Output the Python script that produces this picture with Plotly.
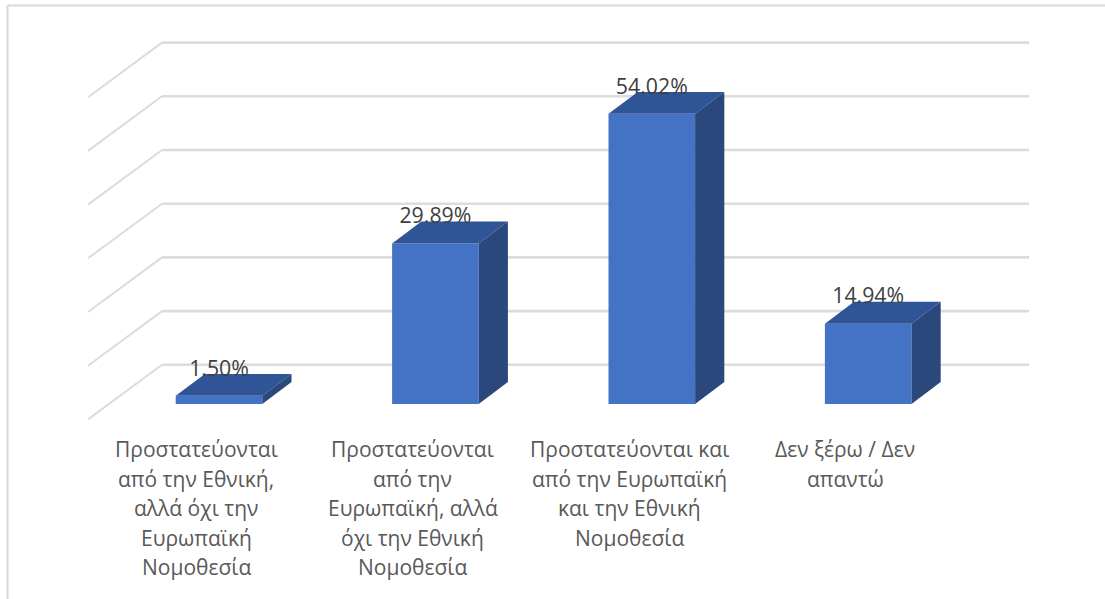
import plotly.graph_objects as go

# ---- data ----
label_lines = [
    ["Προστατεύονται", "από την Εθνική,", "αλλά όχι την", "Ευρωπαϊκή", "Νομοθεσία"],
    ["Προστατεύονται", "από την", "Ευρωπαϊκή, αλλά", "όχι την Εθνική", "Νομοθεσία"],
    ["Προστατεύονται και", "από την Ευρωπαϊκή", "και την Εθνική", "Νομοθεσία"],
    ["Δεν ξέρω / Δεν", "απαντώ"],
]
values = [1.50, 29.89, 54.02, 14.94]
value_text = ["1.50%", "29.89%", "54.02%", "14.94%"]
grid_ticks = [0, 10, 20, 30, 40, 50, 60]

# ---- page geometry (pixels) ----
W, H = 1105, 599
X0, XSTEP = 219.0, 216.4     # pixel of category 0, pixels per category
Y0, YSTEP = 403.9, 5.37      # pixel of value 0, pixels per percent
BAR_W = 86.6 / XSTEP
DX, DY = 29.2 / XSTEP, 21.8 / YSTEP      # bar depth in axis units
WALL_DY = 39.1 / YSTEP                   # back wall offset
GRID_L = (88 - X0) / XSTEP
GRID_M = (162 - X0) / XSTEP
GRID_R = (1029 - X0) / XSTEP
FLOOR_DY = 54.6 / YSTEP                  # diagonal drop from wall to front edge

FRONT, TOP, SIDE = "#4472C4", "#2F5597", "#2A487C"
GRID = "#DCDCDC"

fig = go.Figure()

# gridlines sit under the bars, as below-layer shapes on the data axes
shapes = []
for t in grid_ticks:
    yb = t + WALL_DY
    shapes.append(dict(type="line", xref="x", yref="y", layer="below",
                       x0=GRID_M, x1=GRID_R, y0=yb, y1=yb,
                       line=dict(color=GRID, width=2.6)))
    shapes.append(dict(type="line", xref="x", yref="y", layer="below",
                       x0=GRID_L, x1=GRID_M, y0=yb - FLOOR_DY, y1=yb,
                       line=dict(color=GRID, width=2)))

# front faces
fig.add_trace(go.Bar(
    x=list(range(len(values))), y=values, width=BAR_W,
    marker=dict(color=FRONT, line=dict(width=0)), showlegend=False))

# top and side faces, derived from the same values
for i, v in enumerate(values):
    l, r = i - BAR_W / 2, i + BAR_W / 2
    fig.add_trace(go.Scatter(
        x=[l, r, r + DX, l + DX, l], y=[v, v, v + DY, v + DY, v],
        mode="lines", fill="toself", fillcolor=TOP, line=dict(width=0),
        hoverinfo="skip", showlegend=False))
    fig.add_trace(go.Scatter(
        x=[r, r + DX, r + DX, r, r], y=[0, DY, v + DY, v, 0],
        mode="lines", fill="toself", fillcolor=SIDE, line=dict(width=0),
        hoverinfo="skip", showlegend=False))

# data labels
fig.add_trace(go.Scatter(
    x=list(range(len(values))), y=[v + 25.5 / YSTEP for v in values],
    mode="text", text=value_text, textposition="middle center",
    textfont=dict(family="Open Sans", size=21.3, color="#404040"),
    hoverinfo="skip", showlegend=False))

# category labels, one annotation per line for the wide leading
annotations = []
for i, lines in enumerate(label_lines):
    for j, line in enumerate(lines):
        annotations.append(dict(
            x=i - 0.105, xref="x", y=1 - (449 + 29.6 * j) / H, yref="paper",
            text=line, showarrow=False, xanchor="center", yanchor="middle",
            font=dict(family="Open Sans", size=21, color="#595959")))

# outer frame (top and left edges only)
shapes += [
    dict(type="line", xref="paper", yref="paper", x0=7.5 / W, x1=7.5 / W, y0=0, y1=1 - 5.5 / H,
         line=dict(color="#D9D9D9", width=2)),
    dict(type="line", xref="paper", yref="paper", x0=7.5 / W, x1=1, y0=1 - 5.5 / H, y1=1 - 5.5 / H,
         line=dict(color="#D9D9D9", width=2)),
]

fig.update_layout(
    width=W, height=H, margin=dict(l=0, r=0, t=0, b=0),
    paper_bgcolor="white", plot_bgcolor="white",
    xaxis=dict(range=[-X0 / XSTEP, (W - X0) / XSTEP], visible=False, fixedrange=True),
    yaxis=dict(range=[(Y0 - H) / YSTEP, Y0 / YSTEP], visible=False, fixedrange=True),
    annotations=annotations, shapes=shapes, showlegend=False, hovermode=False,
)

fig.write_html("out.html", config=dict(displayModeBar=False),
               post_script="document.body.style.margin='0';document.body.style.overflow='hidden';")
